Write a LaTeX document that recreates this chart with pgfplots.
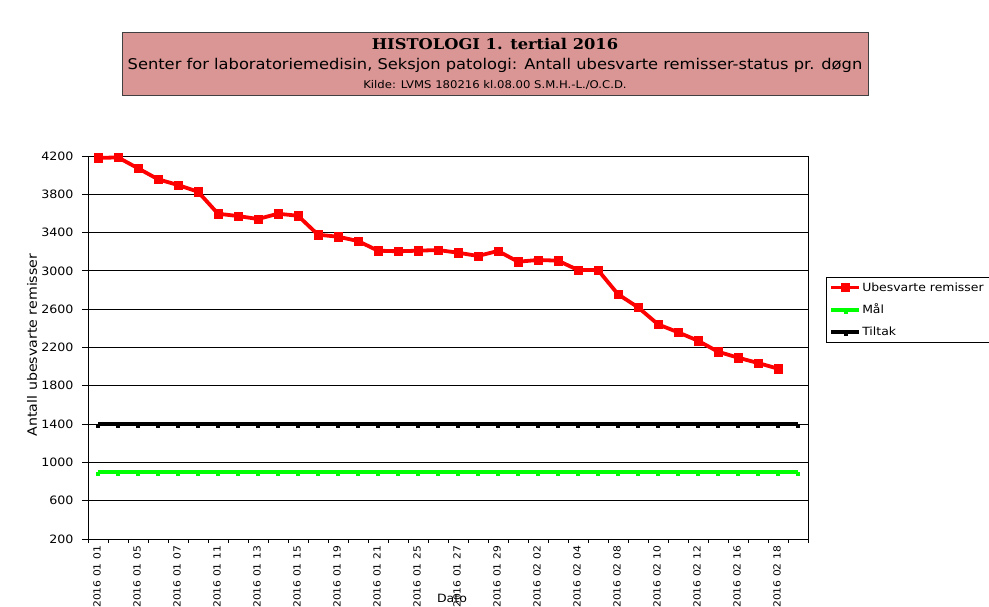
\documentclass[border=0pt]{standalone}
\usepackage{pgfplots}
\pgfplotsset{compat=1.18}
\usepackage{fontspec}
\setmainfont{DejaVu Sans}[FakeStretch=1.1]
\newfontfamily\titlefont{DejaVu Serif}[FakeStretch=1.1]
\definecolor{titlebg}{HTML}{D99694}
\definecolor{titleedge}{HTML}{404040}
\begin{document}
\begin{tikzpicture}[x=1pt,y=1pt]
\useasboundingbox (0,0) rectangle (989,607);
% title box
\draw[titleedge, line width=1pt, fill=titlebg] (122,607-96) rectangle (868,607-33);
\node at (495,607-44) {\titlefont\fontsize{14.8}{16}\selectfont\bfseries HISTOLOGI 1. tertial 2016};
\node at (495,607-65) {\fontsize{14.8}{16}\selectfont Senter for laboratoriemedisin, Seksjon patologi: Antall ubesvarte remisser-status pr. døgn};
\node at (495,607-85) {\fontsize{10.6}{12}\selectfont Kilde: LVMS 180216 kl.08.00 S.M.H.-L./O.C.D.};
\begin{axis}[
  at={(88pt,68pt)}, anchor=south west,
  scale only axis, width=720pt, height=383pt,
  xmin=-0.5, xmax=35.5, ymin=200, ymax=4200,
  ytick={200,600,...,4200},
  xtick={0,2,...,34},
  xticklabels={2016 01 01,2016 01 05,2016 01 07,2016 01 11,2016 01 13,2016 01 15,2016 01 19,2016 01 21,2016 01 25,2016 01 27,2016 01 29,2016 02 02,2016 02 04,2016 02 08,2016 02 10,2016 02 12,2016 02 16,2016 02 18},
  minor xtick={-0.5,0.5,...,35.5},
  x tick label style={rotate=90, anchor=east, font=\fontsize{9.8}{11}\selectfont, inner sep=0.8pt, yshift=1pt},
  y tick label style={font=\fontsize{11.5}{12}\selectfont, xshift=-5pt},
  /pgf/number format/assume math mode=true,
  /pgf/number format/1000 sep={},
  tick align=outside,
  major x tick style={draw=none},
  minor x tick style={black, line width=0.6pt},
  major tick length=6pt, minor tick length=4pt,
  ytick style={black, line width=0.8pt},
  xtick pos=bottom, ytick pos=left,
  ymajorgrids, grid style={black, line width=0.8pt},
  axis line style={black, line width=0.9pt},
  clip=false,
  legend cell align=left,
  legend style={at={(1.025,0.684)}, anchor=north west, draw=black, line width=0.9pt,
    font=\fontsize{11.3}{12}\selectfont, row sep=7.5pt, inner sep=3pt,
    nodes={inner xsep=1pt}},
  legend image code/.code={\draw[mark repeat=2,mark phase=2] plot coordinates {(0pt,0pt)(14pt,0pt)(28pt,0pt)};},
]
\addplot[red, line width=3.8pt, mark=square*, mark size=4.2pt, mark options={line width=0.5pt}] coordinates {
(0,4180)(1,4185)(2,4072)(3,3957)(4,3897)(5,3827)(6,3597)(7,3573)(8,3542)(9,3597)
(10,3576)(11,3378)(12,3357)(13,3312)(14,3211)(15,3205)(16,3211)(17,3218)(18,3190)(19,3156)
(20,3208)(21,3096)(22,3114)(23,3107)(24,3009)(25,3009)(26,2756)(27,2620)(28,2442)(29,2359)
(30,2271)(31,2156)(32,2094)(33,2038)(34,1979)};
\addlegendentry{Ubesvarte remisser\rule{10pt}{0pt}}
\addplot[green, line width=3.5pt, mark=square*, mark size=1.5pt, mark options={yshift=-1.5pt, line width=0.3pt}] coordinates {
(0,900)(1,900)(2,900)(3,900)(4,900)(5,900)(6,900)(7,900)(8,900)(9,900)
(10,900)(11,900)(12,900)(13,900)(14,900)(15,900)(16,900)(17,900)(18,900)(19,900)
(20,900)(21,900)(22,900)(23,900)(24,900)(25,900)(26,900)(27,900)(28,900)(29,900)
(30,900)(31,900)(32,900)(33,900)(34,900)(35,900)};
\addlegendentry{Mål}
\addplot[black, line width=3.5pt, mark=square*, mark size=1.5pt, mark options={yshift=-1.5pt, line width=0.3pt}] coordinates {
(0,1400)(1,1400)(2,1400)(3,1400)(4,1400)(5,1400)(6,1400)(7,1400)(8,1400)(9,1400)
(10,1400)(11,1400)(12,1400)(13,1400)(14,1400)(15,1400)(16,1400)(17,1400)(18,1400)(19,1400)
(20,1400)(21,1400)(22,1400)(23,1400)(24,1400)(25,1400)(26,1400)(27,1400)(28,1400)(29,1400)
(30,1400)(31,1400)(32,1400)(33,1400)(34,1400)(35,1400)};
\addlegendentry{Tiltak}
\end{axis}
\node[rotate=90, font=\fontsize{12.9}{14}\selectfont] at (32,607-345) {Antall ubesvarte remisser};
\node[font=\fontsize{11.4}{12}\selectfont] at (452,607-598) {Dato};
\end{tikzpicture}
\end{document}
